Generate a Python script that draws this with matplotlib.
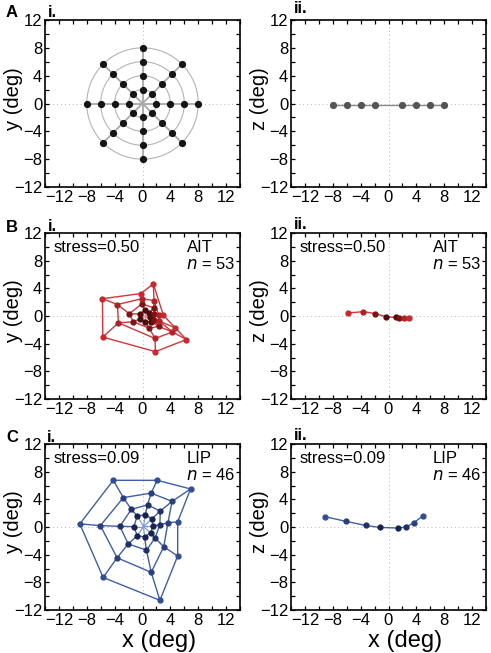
import matplotlib
matplotlib.use("Agg")
import matplotlib.pyplot as plt
from matplotlib.patches import Circle
from matplotlib.ticker import MultipleLocator, FixedLocator

plt.rcParams['font.family'] = ['Liberation Sans', 'DejaVu Sans']

# ---------------- data ----------------
tick_vals = [-12, -8, -4, 0, 4, 8, 12]
circle_radii = [2, 4, 6, 8]

# Panel A i: stimulus grid (rings 1..4, 8 directions each)
grid_x = [[2, 1.41, 0, -1.41, -2, -1.41, 0, 1.41],
          [4, 2.83, 0, -2.83, -4, -2.83, 0, 2.83],
          [6, 4.24, 0, -4.24, -6, -4.24, 0, 4.24],
          [8, 5.66, 0, -5.66, -8, -5.66, 0, 5.66]]
grid_y = [[0, 1.41, 2, 1.41, 0, -1.41, -2, -1.41],
          [0, 2.83, 4, 2.83, 0, -2.83, -4, -2.83],
          [0, 4.24, 6, 4.24, 0, -4.24, -6, -4.24],
          [0, 5.66, 8, 5.66, 0, -5.66, -8, -5.66]]
grid_center = (0, 0)

# Panel A ii: horizontal slice
grid_slice_x = [-8, -6, -4, -2, 2, 4, 6, 8]
grid_slice_z = [-0.25, -0.25, -0.25, -0.25, -0.25, -0.25, -0.25, -0.25]

# Panel B i: AIT MDS solution
ait_x = [[1.1, 1.0, 0.3, -0.4, -0.35, 0.3, 1.2, 1.3],
         [1.65, 1.65, -0.1, -1.89, -1.32, 0.97, 2.3, 1.7],
         [2.3, 1.65, -0.1, -3.6, -3.46, 1.8, 4.3, 2.4],
         [3.0, 1.55, -0.2, -5.75, -5.7, 1.85, 6.3, 4.7]]
ait_y = [[-0.2, 0.5, 0.8, 0.3, -0.4, -0.8, -0.8, -0.5],
         [0.3, 1.18, 1.76, 0.32, -0.84, -1.76, -1.5, -0.6],
         [0.2, 2.24, 2.5, 1.66, -0.98, -3.25, -2.3, -0.75],
         [0.1, 4.65, 3.25, 2.5, -3.05, -5.15, -3.4, -1.7]]
ait_center = (0.5, -0.1)
ait_slice_x = [-5.85, -3.59, -1.87, -0.43, 1.09, 1.48, 2.24, 2.92]
ait_slice_z = [0.43, 0.63, 0.34, -0.1, -0.2, -0.24, -0.29, -0.34]
ait_slice_ring = [4, 3, 2, 1, 1, 2, 3, 4]

# Panel C i: LIP MDS solution
lip_x = [[1.5, 1.35, 0.4, -0.75, -1.25, -0.75, 0.3, 1.15],
         [2.5, 2.55, 0.72, -1.6, -3.25, -2.05, 0.57, 1.8],
         [3.65, 4.25, 1.25, -2.75, -6.05, -3.65, 1.25, 3.05],
         [5.05, 6.9, 2.1, -4.2, -9.0, -5.65, 2.5, 5.05]]
lip_y = [[0.1, 1.2, 1.75, 1.6, 0.05, -1.25, -1.45, -0.85],
         [0.35, 2.3, 3.2, 2.55, 0.1, -2.45, -3.35, -1.6],
         [0.6, 3.7, 4.9, 4.25, 0.2, -4.45, -6.55, -2.85],
         [0.75, 5.5, 6.75, 6.75, 0.45, -7.3, -10.6, -4.2]]
lip_center = (0.15, 0.05)
lip_slice_x = [-9.1, -6.09, -3.30, -1.25, 1.34, 2.53, 3.64, 4.93]
lip_slice_z = [1.49, 0.81, 0.23, -0.06, -0.15, 0.0, 0.62, 1.59]
lip_slice_ring = [4, 3, 2, 1, 1, 2, 3, 4]

# ---------------- figure ----------------
W, H = 491, 653
fig = plt.figure(figsize=(W / 100, H / 100), dpi=100)
AXW = 195.0


def add_ax(l, t, r, b):
    return fig.add_axes([l / W, 1 - b / H, (r - l) / W, (b - t) / H])


def style(ax, ylabel, xlabel=None):
    ax.set_xlim(-14, 14)
    ax.set_ylim(-12, 12)
    ax.xaxis.set_major_locator(FixedLocator(tick_vals))
    ax.yaxis.set_major_locator(FixedLocator(tick_vals))
    ax.xaxis.set_minor_locator(MultipleLocator(2))
    ax.yaxis.set_minor_locator(MultipleLocator(2))
    ax.tick_params(which='both', direction='in', top=True, right=True,
                   length=3.2, width=0.9, labelsize=12, pad=2)
    for s in ax.spines.values():
        s.set_linewidth(1.2)
    ax.axhline(0, color='#b8b8b8', lw=0.7, ls=(0, (1, 3)), zorder=0)
    ax.axvline(0, color='#b8b8b8', lw=0.7, ls=(0, (1, 3)), zorder=0)
    ax.set_ylabel(ylabel, fontsize=14.5)
    ax.yaxis.set_label_coords(-22.0 / AXW, 0.53)
    if xlabel:
        ax.set_xlabel(xlabel, fontsize=17)
        ax.xaxis.set_label_coords(0.585, -0.12)


def draw_web(ax, xs, ys, center, line_c, spoke_c, dot_cs, ms=3.5):
    for ri in range(4):
        px = list(xs[ri]) + [xs[ri][0]]
        py = list(ys[ri]) + [ys[ri][0]]
        ax.plot(px, py, color=line_c, lw=1.0, zorder=2)
    for k in range(8):
        px = [xs[ri][k] for ri in range(4)]
        py = [ys[ri][k] for ri in range(4)]
        ax.plot(px, py, color=line_c, lw=1.0, zorder=2)
        ax.plot([center[0], xs[0][k]], [center[1], ys[0][k]],
                color=spoke_c, lw=0.9, zorder=1)
    for ri in range(4):
        ax.plot(xs[ri], ys[ri], 'o', ls='none', color=dot_cs[ri], ms=ms,
                mec=dot_cs[ri], zorder=3)


def panel_text(ax, stress, area, n):
    ax.text(-12.7, 9.9, stress, fontsize=12, va='center', ha='left')
    ax.text(6.4, 9.9, area, fontsize=12, va='center', ha='left')
    ax.text(6.25, 7.5, r'$\it{n}$ = ' + str(n), fontsize=12, va='center', ha='left')


def label(x, y, s, size=12):
    fig.text(x / W, 1 - y / H, s, fontsize=size, fontweight='bold',
             ha='left', va='baseline')


col_l = (45, 240)
col_r = (291, 486)
rows = [(20, 187), (233, 399), (444, 610)]

# ---- A i ----
ax = add_ax(col_l[0], rows[0][0], col_l[1], rows[0][1])
style(ax, 'y (deg)')
for r in circle_radii:
    ax.add_patch(Circle((0, 0), r, fill=False, ec='#b4b4b4', lw=0.8, zorder=1))
for k in range(8):
    ax.plot([grid_center[0], grid_x[3][k]], [grid_center[1], grid_y[3][k]],
            color='#a8a8a8', lw=1.3, zorder=1)
for ri in range(4):
    ax.plot(grid_x[ri], grid_y[ri], 'o', ls='none', color='#151515', ms=4.2, zorder=3)

# ---- A ii ----
ax = add_ax(col_r[0], rows[0][0], col_r[1], rows[0][1])
style(ax, 'z (deg)')
ax.plot(grid_slice_x, grid_slice_z, color='#8a8a8a', lw=1.0, zorder=2)
ax.plot(grid_slice_x, grid_slice_z, 'o', ls='none', color='#555555', ms=4.2, zorder=3)

# ---- B i ----
red_dots = ['#4e0b0b', '#7d1414', '#b02226', '#c8292d']
ax = add_ax(col_l[0], rows[1][0], col_l[1], rows[1][1])
style(ax, 'y (deg)')
draw_web(ax, ait_x, ait_y, ait_center, '#d3353a', '#ee8a8c', red_dots)
panel_text(ax, 'stress=0.50', 'AIT', 53)

# ---- B ii ----
ax = add_ax(col_r[0], rows[1][0], col_r[1], rows[1][1])
style(ax, 'z (deg)')
ax.plot(ait_slice_x, ait_slice_z, color='#d3353a', lw=1.0, zorder=2)
for x, z, r in zip(ait_slice_x, ait_slice_z, ait_slice_ring):
    ax.plot([x], [z], 'o', color=red_dots[r - 1], ms=3.5, zorder=3)
panel_text(ax, 'stress=0.50', 'AIT', 53)

# ---- C i ----
blue_dots = ['#18224f', '#212f66', '#2a3e7e', '#324d94']
ax = add_ax(col_l[0], rows[2][0], col_l[1], rows[2][1])
style(ax, 'y (deg)', 'x (deg)')
draw_web(ax, lip_x, lip_y, lip_center, '#3e5fa8', '#7f9bd6', blue_dots)
panel_text(ax, 'stress=0.09', 'LIP', 46)

# ---- C ii ----
ax = add_ax(col_r[0], rows[2][0], col_r[1], rows[2][1])
style(ax, 'z (deg)', 'x (deg)')
ax.plot(lip_slice_x, lip_slice_z, color='#3e5fa8', lw=1.0, zorder=2)
for x, z, r in zip(lip_slice_x, lip_slice_z, lip_slice_ring):
    ax.plot([x], [z], 'o', color=blue_dots[r - 1], ms=3.5, zorder=3)
panel_text(ax, 'stress=0.09', 'LIP', 46)

# panel labels
label(6, 17, 'A')
label(48, 17, 'i.')
label(294, 13, 'ii.')
label(6, 232, 'B')
label(48, 231, 'i.')
label(294, 229, 'ii.')
label(6, 442, 'C')
label(47, 442, 'i.')
label(294, 440, 'ii.')

fig.savefig('out.png', dpi=100)
